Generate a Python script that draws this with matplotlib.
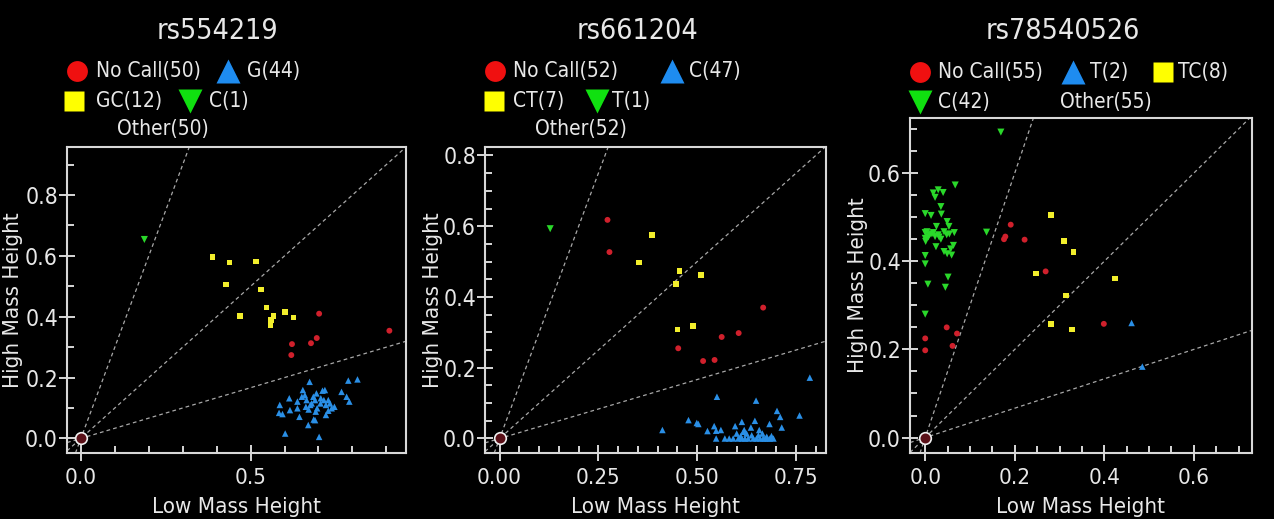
import numpy as np
import matplotlib
matplotlib.use("Agg")
import matplotlib.pyplot as plt

plt.rcParams['font.family'] = ['DejaVu Sans']
plt.rcParams['font.stretch'] = 'condensed'

# ---- data: rs554219 ----
titles = ["rs554219", "rs661204", "rs78540526"]

p1_nocall_x = [0.702, 0.622, 0.620, 0.678, 0.695, 0.909]
p1_nocall_y = [0.410, 0.310, 0.274, 0.313, 0.330, 0.354]
p1_hom1_x = [0.586, 0.584, 0.594, 0.602, 0.614, 0.638, 0.638, 0.644, 0.654, 0.660,
             0.665, 0.663, 0.671, 0.674, 0.680, 0.685, 0.690, 0.686, 0.692, 0.696,
             0.706, 0.702, 0.712, 0.719, 0.716, 0.722, 0.722, 0.729, 0.734, 0.739,
             0.768, 0.783, 0.788, 0.791, 0.815, 0.670, 0.707, 0.690, 0.651, 0.729,
             0.676, 0.694, 0.616, 0.747]
p1_hom1_y = [0.110, 0.084, 0.080, 0.016, 0.132, 0.121, 0.099, 0.071, 0.159, 0.142,
             0.126, 0.104, 0.095, 0.186, 0.115, 0.137, 0.126, 0.062, 0.088, 0.099,
             0.115, 0.005, 0.157, 0.159, 0.126, 0.110, 0.077, 0.091, 0.115, 0.099,
             0.153, 0.137, 0.190, 0.121, 0.194, 0.044, 0.132, 0.060, 0.137, 0.126,
             0.110, 0.148, 0.093, 0.104]
p1_het_x = [0.388, 0.438, 0.427, 0.516, 0.530, 0.469, 0.547, 0.567, 0.560, 0.559, 0.601, 0.626]
p1_het_y = [0.597, 0.578, 0.506, 0.582, 0.490, 0.402, 0.430, 0.403, 0.389, 0.373, 0.416, 0.398]
p1_hom2_x = [0.187]
p1_hom2_y = [0.654]

# ---- data: rs661204 ----
p2_nocall_x = [0.273, 0.278, 0.452, 0.515, 0.544, 0.562, 0.605, 0.667]
p2_nocall_y = [0.618, 0.527, 0.255, 0.219, 0.222, 0.287, 0.298, 0.370]
p2_hom1_x = [0.412, 0.478, 0.499, 0.503, 0.526, 0.543, 0.548, 0.550, 0.560, 0.581,
             0.596, 0.600, 0.604, 0.613, 0.617, 0.621, 0.625, 0.629, 0.636, 0.638,
             0.642, 0.646, 0.649, 0.650, 0.655, 0.659, 0.665, 0.672, 0.676, 0.683,
             0.684, 0.688, 0.693, 0.702, 0.710, 0.714, 0.759, 0.785, 0.570, 0.591,
             0.610, 0.613, 0.667, 0.678, 0.657, 0.619, 0.548]
p2_hom1_y = [0.024, 0.052, 0.044, 0.041, 0.021, 0.035, 0.000, 0.118, 0.024, 0.000,
             0.035, 0.014, 0.000, 0.047, 0.019, 0.000, 0.014, 0.000, 0.031, 0.009,
             0.000, 0.050, 0.107, 0.000, 0.009, 0.000, 0.014, 0.000, 0.005, 0.041,
             0.000, 0.007, 0.000, 0.078, 0.061, 0.031, 0.065, 0.172, 0.000, 0.000,
             0.007, 0.000, 0.000, 0.000, 0.024, 0.024, 0.022]
p2_het_x = [0.386, 0.353, 0.455, 0.447, 0.510, 0.450, 0.490]
p2_het_y = [0.576, 0.497, 0.473, 0.436, 0.462, 0.308, 0.318]
p2_hom2_x = [0.128]
p2_hom2_y = [0.593]

# ---- data: rs78540526 ----
p3_nocall_x = [0.191, 0.179, 0.176, 0.222, 0.269, 0.399, 0.048, 0.071, 0.061, 0.000, 0.000]
p3_nocall_y = [0.483, 0.456, 0.450, 0.449, 0.377, 0.258, 0.250, 0.236, 0.208, 0.225, 0.198]
p3_hom1_x = [0.461, 0.485]
p3_hom1_y = [0.260, 0.161]
p3_het_x = [0.281, 0.310, 0.331, 0.247, 0.424, 0.315, 0.281, 0.328]
p3_het_y = [0.505, 0.446, 0.421, 0.372, 0.361, 0.322, 0.258, 0.245]
p3_hom2_x = [0.169, 0.067, 0.018, 0.029, 0.040, 0.022, 0.035, 0.000, 0.013, 0.036,
             0.049, 0.000, 0.010, 0.022, 0.029, 0.025, 0.042, 0.053, 0.054, 0.065,
             0.137, 0.000, 0.001, 0.035, 0.024, 0.042, 0.049, 0.059, 0.063, 0.000,
             0.000, 0.051, 0.006, 0.045, 0.000, 0.018, 0.007, 0.048, 0.057, 0.004,
             0.031, 0.015]
p3_hom2_y = [0.693, 0.573, 0.555, 0.562, 0.556, 0.545, 0.524, 0.508, 0.504, 0.507,
             0.490, 0.465, 0.460, 0.456, 0.460, 0.479, 0.467, 0.479, 0.462, 0.465,
             0.466, 0.452, 0.445, 0.450, 0.433, 0.422, 0.417, 0.414, 0.436, 0.413,
             0.394, 0.364, 0.348, 0.341, 0.280, 0.465, 0.455, 0.460, 0.428, 0.467,
             0.455, 0.462]

other_x = [0.0]
other_y = [0.0]

# legend labels
legend_rows = [
    [["No Call(50)", "G(44)"], ["GC(12)", "C(1)"], ["Other(50)"]],
    [["No Call(52)", "C(47)"], ["CT(7)", "T(1)"], ["Other(52)"]],
    [["No Call(55)", "T(2)", "TC(8)"], ["C(42)", "Other(55)"]],
]

cluster_slopes = [3.0, 1.0, 1.0 / 3.0]

RED, BLUE, YEL, GRN = '#d0202c', '#2a8fe6', '#f2ee2c', '#2ad82a'
RED_L, BLUE_L, YEL_L, GRN_L = '#f01010', '#1e8cf0', '#ffff00', '#10e010'
FG = '#e8e8e8'

W, H = 1274, 519
fig = plt.figure(figsize=(W / 100, H / 100), dpi=100, facecolor='black')


def px(x0, y0, x1, y1):
    return [x0 / W, 1 - y1 / H, (x1 - x0) / W, (y1 - y0) / H]


panels = [
    dict(rect=px(67, 147, 406, 453), lim=(-0.041, 0.958), ylim=(-0.048, 0.958),
         xmaj=0.5, xmin=0.1, ymaj=0.2, ymin=0.1, xfmt='%.1f', cx=217,
         ylab_x=-0.158, xlab_y=-0.145),
    dict(rect=px(485, 147, 826, 453), lim=(-0.037, 0.826), ylim=(-0.041, 0.824),
         xmaj=0.25, xmin=0.05, ymaj=0.2, ymin=0.05, xfmt='%.2f', cx=638,
         ylab_x=-0.152, xlab_y=-0.145),
    dict(rect=px(910, 118, 1252, 453), lim=(-0.034, 0.730), ylim=(-0.035, 0.725),
         xmaj=0.2, xmin=0.05, ymaj=0.2, ymin=0.05, xfmt='%.1f', cx=1063,
         ylab_x=-0.151, xlab_y=-0.132),
]

data = [
    (p1_nocall_x, p1_nocall_y, p1_hom1_x, p1_hom1_y, p1_het_x, p1_het_y, p1_hom2_x, p1_hom2_y),
    (p2_nocall_x, p2_nocall_y, p2_hom1_x, p2_hom1_y, p2_het_x, p2_het_y, p2_hom2_x, p2_hom2_y),
    (p3_nocall_x, p3_nocall_y, p3_hom1_x, p3_hom1_y, p3_het_x, p3_het_y, p3_hom2_x, p3_hom2_y),
]

for p, d in zip(panels, data):
    ax = fig.add_axes(p['rect'], facecolor='black')
    ax.set_xlim(*p['lim'])
    ax.set_ylim(*p['ylim'])
    for s in cluster_slopes:
        ax.axline((0, 0), slope=s, color='#a8a8a8', lw=0.9, ls=(0, (3, 2.5)), zorder=1)
    nx, ny, ax1, ay1, hx, hy, gx, gy = d
    ax.scatter(nx, ny, marker='o', s=18, color=RED, edgecolors='none', zorder=3)
    ax.scatter(ax1, ay1, marker='^', s=22, color=BLUE, edgecolors='none', zorder=3)
    ax.scatter(hx, hy, marker='s', s=16, color=YEL, edgecolors='none', zorder=3)
    ax.scatter(gx, gy, marker='v', s=26, color=GRN, edgecolors='none', zorder=3)
    ax.scatter(other_x, other_y, marker='o', s=70, facecolor='#5a1018',
               edgecolors='#f0f0f0', linewidths=1.2, zorder=4)

    ax.set_xticks(np.arange(0, p['lim'][1], p['xmaj']))
    ax.set_xticks(np.arange(0, p['lim'][1], p['xmin']), minor=True)
    ax.set_yticks(np.arange(0, p['ylim'][1], p['ymaj']))
    ax.set_yticks(np.arange(0, p['ylim'][1], p['ymin']), minor=True)
    ax.xaxis.set_major_formatter(plt.FormatStrFormatter(p['xfmt']))
    ax.yaxis.set_major_formatter(plt.FormatStrFormatter('%.1f'))
    ax.tick_params(which='major', direction='inout', length=11, width=1.3,
                   color=FG, labelcolor=FG)
    ax.tick_params(which='minor', direction='in', length=5, width=1.3, color=FG)
    ax.tick_params(axis='x', which='major', pad=5, labelsize=16)
    ax.tick_params(axis='y', which='major', pad=1, labelsize=16.5)
    for sp in ax.spines.values():
        sp.set_color('#d8d8d8')
        sp.set_linewidth(1.5)
    ax.set_xlabel("Low Mass Height", color=FG, fontsize=16)
    ax.set_ylabel("High Mass Height", color=FG, fontsize=16, va='center')
    ax.xaxis.set_label_coords(0.5, p['xlab_y'])
    ax.yaxis.set_label_coords(p['ylab_x'], 0.5)

# titles
for t, p in zip(titles, panels):
    fig.text(p['cx'] / W, 1 - 31 / H, t, color=FG, fontsize=20.5, ha='center', va='center')

# legends (marker symbol, marker colour, marker x, text x, row y) in pixels
legend_marks = [
    [('o', RED_L, 77, 96, 71), ('^', BLUE_L, 228, 247, 71),
     ('s', YEL_L, 74, 96, 101), ('v', GRN_L, 190, 209, 101),
     (None, None, 0, 117, 129)],
    [('o', RED_L, 495, 513, 71), ('^', BLUE_L, 672, 689, 71),
     ('s', YEL_L, 494, 513, 101), ('v', GRN_L, 597, 612, 101),
     (None, None, 0, 535, 129)],
    [('o', RED_L, 920, 938, 72), ('^', BLUE_L, 1073, 1090, 72),
     ('s', YEL_L, 1163, 1178, 72), ('v', GRN_L, 920, 938, 102),
     (None, None, 0, 1060, 102)],
]

for rows, marks in zip(legend_rows, legend_marks):
    labels = [lab for row in rows for lab in row]
    for lab, (m, c, mx, tx, ry) in zip(labels, marks):
        if m is not None:
            msize = 15 if m in ('o', 's') else 17
            fig.add_artist(plt.Line2D([mx / W], [1 - ry / H], marker=m, markersize=msize,
                                      color=c, markeredgecolor='none', linestyle='none',
                                      transform=fig.transFigure))
        fig.text(tx / W, 1 - ry / H, lab, color=FG, fontsize=15, ha='left', va='center')

fig.savefig("out.png", dpi=100, facecolor='black')
